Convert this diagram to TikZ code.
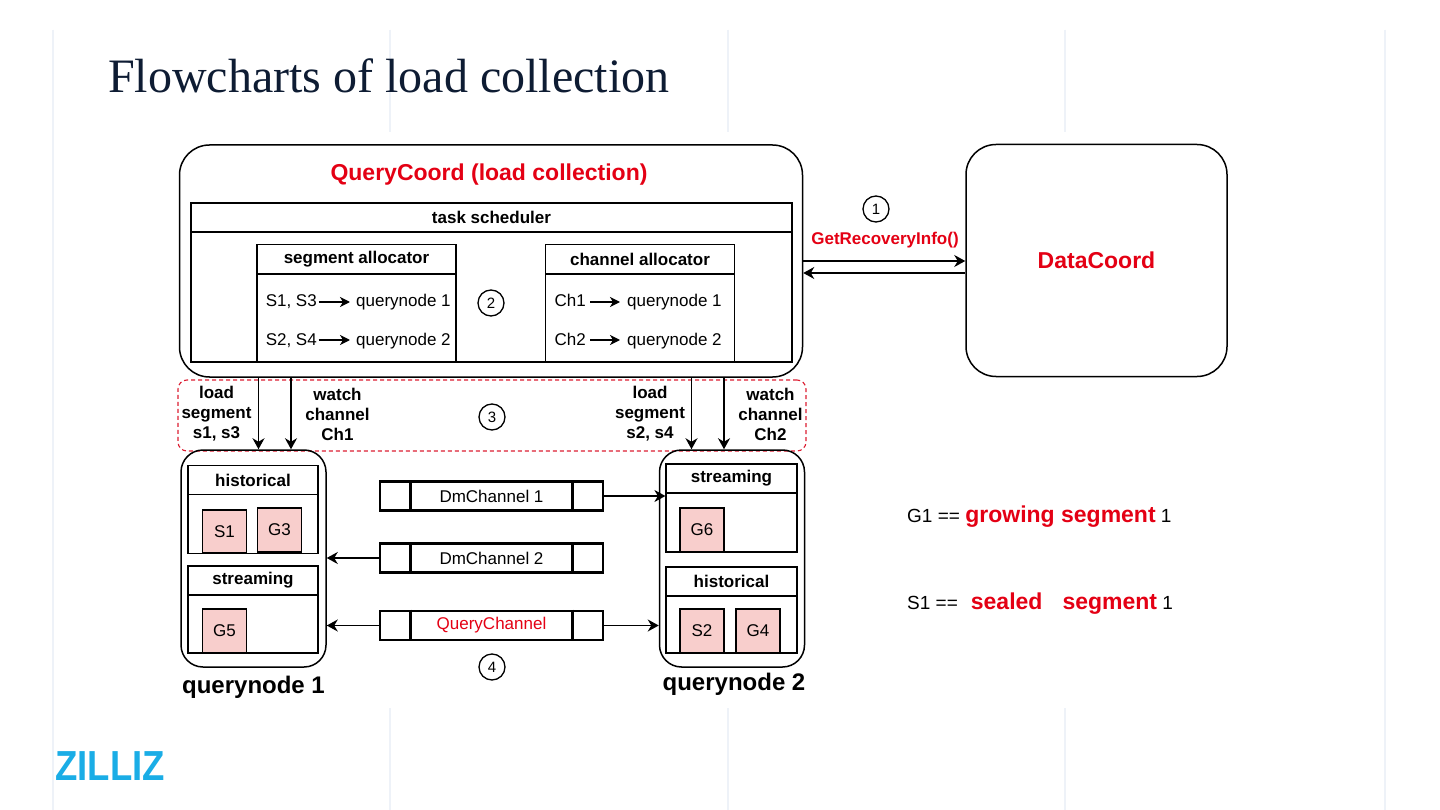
\documentclass[tikz,border=0pt]{standalone}
\usepackage{fontspec}
\setmainfont{Liberation Sans}
\newfontfamily\titlefont{Liberation Serif}
\usetikzlibrary{arrows.meta,calc}
\definecolor{qred}{RGB}{228,0,20}
\definecolor{pinkc}{HTML}{F8CECC}
\definecolor{dashc}{RGB}{220,30,50}
\definecolor{titlec}{HTML}{0E1C33}
\definecolor{bgc}{HTML}{EEF2F8}
\definecolor{zblue}{HTML}{1AADE6}
\tikzset{
  bx/.style={draw=black, line width=1.2pt, inner sep=0pt},
  rbox/.style={draw=black, line width=1.5pt, inner sep=0pt, rounded corners=#1},
  hdr/.style={bx, font=\bfseries\fontsize{17}{20}\selectfont},
  pinkbox/.style={bx, fill=pinkc, minimum width=44pt, minimum height=44pt, font=\fontsize{17}{20}\selectfont},
  chanbox/.style={draw=black, line width=2.8pt, inner sep=0pt, minimum width=223pt, minimum height=29pt, font=\fontsize{17}{20}\selectfont},
  numc/.style={draw=black, circle, line width=1.3pt, minimum size=26pt, inner sep=0pt, font=\fontsize{15}{18}\selectfont},
  arr/.style={line width=1.5pt, -{Stealth[length=11pt,width=12pt,inset=3.5pt]}},
  tarr/.style={line width=1.7pt, -{Stealth[length=10pt,width=10pt,inset=3pt]}},
  txt/.style={inner sep=0pt, font=\fontsize{17}{20}\selectfont, text height=13pt, text depth=3pt},
  lbl/.style={inner sep=0pt, align=center, font=\bfseries\fontsize{17}{20}\selectfont},
  bgline/.style={draw=bgc, line width=1.2pt},
}
\begin{document}
\begin{tikzpicture}[x=1pt,y=-1pt]
\useasboundingbox (0,0) rectangle (1440,810);
\fill[white] (0,0) rectangle (1440,810);
% background guide lines
\foreach \x in {53,1385} {\draw[bgline] (\x,30) -- (\x,810);}
\foreach \x in {390,728,1065} {\draw[bgline] (\x,30) -- (\x,132); \draw[bgline] (\x,708) -- (\x,810);}

% title
\node[anchor=base west, inner sep=0pt, text=titlec, font=\titlefont\fontsize{48}{52}\selectfont] (title) at (108,93) {Flowcharts of load collection};

% QueryCoord
\node[rbox=30pt, minimum width=623pt, minimum height=232pt] (qc) at (491,261) {};
\node[anchor=base, inner sep=0pt, text=qred, font=\bfseries\fontsize{23}{26}\selectfont] (qct) at (489,181) {QueryCoord (load collection)};
\node[hdr, minimum width=601pt, minimum height=29pt] (tsh) at (491.5,217.5) {task scheduler};
\node[bx, minimum width=601pt, minimum height=130pt] (tsb) at (491.5,297) {};
\node[hdr, minimum width=199pt, minimum height=29pt] (sah) at (356.5,259) {segment allocator};
\node[bx, minimum width=199pt, minimum height=88pt] (sab) at (356.5,318) {};
\node[hdr, minimum width=189pt, minimum height=29pt] (cah) at (640,259) {channel allocator};
\node[bx, minimum width=189pt, minimum height=88pt] (cab) at (640,318) {};

\node[txt, anchor=east] (sa1l) at (317,302) {S1, S3};
\node[txt, anchor=west] (sa1r) at (356,302) {querynode 1};
\draw[tarr, shorten <=1.5pt, shorten >=6pt] (sa1l) -- (sa1r);
\node[txt, anchor=east] (sa2l) at (317,340) {S2, S4};
\node[txt, anchor=west] (sa2r) at (356,340) {querynode 2};
\draw[tarr, shorten <=1.5pt, shorten >=6pt] (sa2l) -- (sa2r);
\node[txt, anchor=east] (ca1l) at (586,302) {Ch1};
\node[txt, anchor=west] (ca1r) at (627,302) {querynode 1};
\draw[tarr, shorten <=4pt, shorten >=7pt] (ca1l) -- (ca1r);
\node[txt, anchor=east] (ca2l) at (586,340) {Ch2};
\node[txt, anchor=west] (ca2r) at (627,340) {querynode 2};
\draw[tarr, shorten <=4pt, shorten >=7pt] (ca2l) -- (ca2r);
\node[numc] (n2) at (491,303) {2};

% DataCoord
\node[rbox=30pt, minimum width=261pt, minimum height=232pt, text=qred, font=\bfseries\fontsize{23}{26}\selectfont] (dc) at (1096.5,260.5) {DataCoord};
\coordinate (ya) at (0,261);
\coordinate (yb) at (0,273);
\draw[arr] (qc.east |- ya) -- (dc.west |- ya);
\draw[arr] (dc.west |- yb) -- (qc.east |- yb);
\node[numc] (n1) at (876,209) {1};
\node[anchor=base, inner sep=0pt, text=qred, font=\bfseries\fontsize{17}{20}\selectfont] (gri) at (885,245) {GetRecoveryInfo()};

% dashed zone
\node[draw=dashc, line width=1.1pt, dash pattern=on 4pt off 3pt, rounded corners=9pt, minimum width=628pt, minimum height=71pt, inner sep=0pt] (zone) at (492,415.5) {};
\node[lbl] (l1) at (216.5,414) {load\\segment\\s1, s3};
\node[lbl] (l2) at (337.5,414) {watch\\channel\\Ch1};
\node[lbl] (l3) at (650,414) {load\\segment\\s2, s4};
\node[lbl] (l4) at (770.5,414) {watch\\channel\\Ch2};
\node[numc] (n3) at (492,417) {3};

% querynode 1
\node[rbox=22pt, minimum width=145pt, minimum height=217pt] (qn1) at (253.5,558.5) {};
\node[hdr, minimum width=130pt, minimum height=29pt] (h1h) at (253,480) {historical};
\node[bx, minimum width=130pt, minimum height=59pt] (h1b) at (253,524) {};
\node[pinkbox, minimum height=43pt] (s1) at (224.5,531.5) {S1};
\node[pinkbox] (g3) at (279.5,530) {G3};
\node[hdr, minimum width=130pt, minimum height=29pt] (st1h) at (253,580.5) {streaming};
\node[bx, minimum width=130pt, minimum height=58pt] (st1b) at (253,624) {};
\node[pinkbox] (g5) at (224.5,631) {G5};
\node[anchor=base, inner sep=0pt, font=\bfseries\fontsize{24}{28}\selectfont] (qn1l) at (253.5,693) {querynode 1};

% querynode 2
\node[rbox=22pt, minimum width=145pt, minimum height=217pt] (qn2) at (732,558.5) {};
\node[hdr, minimum width=131pt, minimum height=29pt] (st2h) at (731.5,478.5) {streaming};
\node[bx, minimum width=131pt, minimum height=59pt] (st2b) at (731.5,522.5) {};
\node[pinkbox] (g6) at (702,530) {G6};
\node[hdr, minimum width=131pt, minimum height=29pt] (h2h) at (731.5,581.5) {historical};
\node[bx, minimum width=131pt, minimum height=57pt] (h2b) at (731.5,624.5) {};
\node[pinkbox] (s2) at (702,631) {S2};
\node[pinkbox] (g4) at (758,631) {G4};
\node[anchor=base, inner sep=0pt, font=\bfseries\fontsize{24}{28}\selectfont] (qn2l) at (734,690) {querynode 2};

% load / watch arrows
\coordinate (xa) at (258.5,0);
\coordinate (xb) at (291,0);
\coordinate (xc) at (691.5,0);
\coordinate (xd) at (724,0);
\draw[arr] (qc.south -| xa) -- (qn1.north -| xa);
\draw[arr] (qc.south -| xb) -- (qn1.north -| xb);
\draw[arr] (qc.south -| xc) -- (qn2.north -| xc);
\draw[arr] (qc.south -| xd) -- (qn2.north -| xd);

% channels
\node[chanbox] (ch1) at (491.5,496) {DmChannel 1};
\node[chanbox] (ch2) at (491.5,558) {DmChannel 2};
\node[chanbox, text=qred] (qch) at (491.5,625.5) {QueryChannel};
\foreach \c in {ch1,ch2,qch} {
  \draw[line width=2.8pt] ($(\c.north west)+(32,0)$) -- ($(\c.south west)+(32,0)$);
  \draw[line width=2.8pt] ($(\c.north east)+(-32,0)$) -- ($(\c.south east)+(-32,0)$);
}
\draw[arr] (ch1.east) -- (ch1.east -| st2b.west);
\draw[arr] (ch2.west) -- (ch2.west -| qn1.east);
\draw[arr] (qch.west) -- (qch.west -| qn1.east);
\draw[arr] (qch.east) -- (qch.east -| qn2.west);
\node[numc] (n4) at (492,667) {4};

% legend
\node[anchor=base west, inner sep=0pt, font=\fontsize{19}{22}\selectfont] (lg1) at (907,522) {G1 == \textcolor{qred}{\bfseries\fontsize{23}{26}\selectfont growing segment} 1};
\node[anchor=base west, inner sep=0pt, font=\fontsize{19}{22}\selectfont] (lg2) at (907,609) {S1 ==\hspace{13pt}\textcolor{qred}{\bfseries\fontsize{23}{26}\selectfont sealed\hspace{20pt}segment} 1};

% logo
\node[anchor=base west, inner sep=0pt, text=zblue, font=\bfseries\fontsize{42}{44}\selectfont] (logo) at (55,780) {\scalebox{0.87}[1]{ZILLIZ}};
\end{tikzpicture}
\end{document}
